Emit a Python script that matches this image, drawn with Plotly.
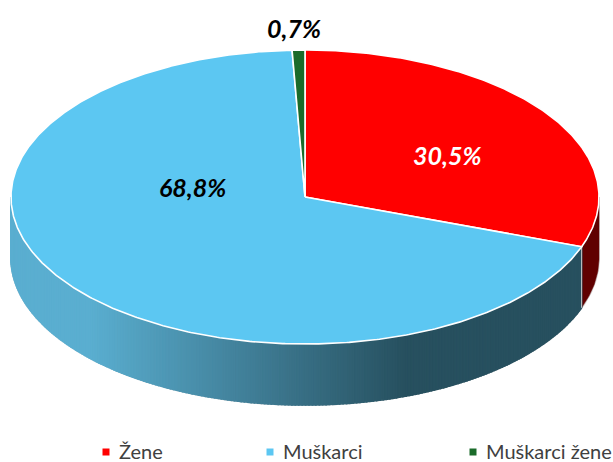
import math
import plotly.graph_objects as go

categories = ["Žene", "Muškarci", "Muškarci žene"]
values = [30.5, 68.8, 0.7]
labels = ["30,5%", "68,8%", "0,7%"]
colors = ["#FF0000", "#5CC7F2", "#1A6B2A"]
label_colors = ["#FFFFFF", "#000000", "#000000"]

W, H = 613, 462
CX, CY, RX, RY, DEPTH = 305, 197, 294, 147, 61
FONT = "Lato"
RED_SIDE = "#600000"


def pt(deg, dy=0):
    a = math.radians(deg)
    return CX + RX * math.sin(a), CY - RY * math.cos(a) + dy


def arc(a0, a1, dy=0, n=None):
    n = n or max(2, int(abs(a1 - a0) * 2))
    return [pt(a0 + (a1 - a0) * i / n, dy) for i in range(n + 1)]


def poly(points, fill, line_color, width=0):
    xs = [p[0] for p in points] + [points[0][0]]
    ys = [p[1] for p in points] + [points[0][1]]
    return go.Scatter(x=xs, y=ys, mode="lines", fill="toself", fillcolor=fill,
                      line=dict(color=line_color, width=width), hoverinfo="skip",
                      showlegend=False)


def side_color(x):
    c0 = (90, 174, 208)
    c1 = (39, 80, 95)
    t = min(1, max(0, (x - 90) / (405 - 90)))
    return "rgb(%d,%d,%d)" % tuple(round(a + (b - a) * t) for a, b in zip(c0, c1))


fig = go.Figure()

# slice angles, clockwise from 12 o'clock
total = sum(values)
angles = [0]
for v in values:
    angles.append(angles[-1] + v / total * 360)

# outer silhouette of the side wall
fig.add_trace(poly(arc(90, 270, DEPTH, 360) + arc(270, 90, 0, 360), "#D9D9D9", "#D9D9D9", 2))

# side wall of each front-facing slice
for i in range(len(values)):
    a0, a1 = max(angles[i], 90), min(angles[i + 1], 270)
    if a1 <= a0:
        continue
    if i == 0:
        fig.add_trace(poly(arc(a0, a1) + arc(a1, a0, DEPTH), RED_SIDE, RED_SIDE, 0.5))
    else:
        n = int((a1 - a0) * 1.5)
        for k in range(n):
            s0 = a0 + (a1 - a0) * k / n
            s1 = a0 + (a1 - a0) * (k + 1) / n
            col = side_color(pt((s0 + s1) / 2)[0])
            fig.add_trace(poly(arc(s0, s1, 0, 2) + arc(s1, s0, DEPTH, 2), col, col, 1.6))

# light edge between red and blue side walls
x_edge, y_edge = pt(angles[1])
fig.add_trace(go.Scatter(x=[x_edge, x_edge], y=[y_edge, y_edge + DEPTH], mode="lines",
                         line=dict(color="#C8C8C8", width=1), hoverinfo="skip", showlegend=False))

# top faces
for i in range(len(values)):
    fig.add_trace(poly([(CX, CY)] + arc(angles[i], angles[i + 1]), colors[i], "#FFFFFF", 1.6))

# data labels
label_pos = [(447, 155), (192, 187), (294, 28)]
for text, col, (lx, ly) in zip(labels, label_colors, label_pos):
    fig.add_annotation(x=lx, y=ly, text="<b><i>%s</i></b>" % text, showarrow=False,
                       font=dict(family=FONT, size=25, color=col), xanchor="center", yanchor="middle")

# legend
legend_x = [106, 270, 473]
for name, col, lx in zip(categories, colors, legend_x):
    fig.add_trace(go.Scatter(x=[lx], y=[452], mode="markers",
                             marker=dict(symbol="square", size=7, color=col),
                             hoverinfo="skip", showlegend=False))
    fig.add_annotation(x=lx + 11, y=451, text=name, showarrow=False, xanchor="left", yanchor="middle",
                       font=dict(family=FONT, size=20, color="#404040"))

fig.update_layout(
    width=W, height=H, autosize=False,
    margin=dict(l=0, r=0, t=0, b=0),
    paper_bgcolor="#FFFFFF", plot_bgcolor="#FFFFFF",
    xaxis=dict(range=[0, W], visible=False, fixedrange=True),
    yaxis=dict(range=[H, 0], visible=False, fixedrange=True),
)
fig.write_html("out.html", config={"displayModeBar": False},
               post_script="document.body.style.margin='0';document.body.style.overflow='hidden';")
